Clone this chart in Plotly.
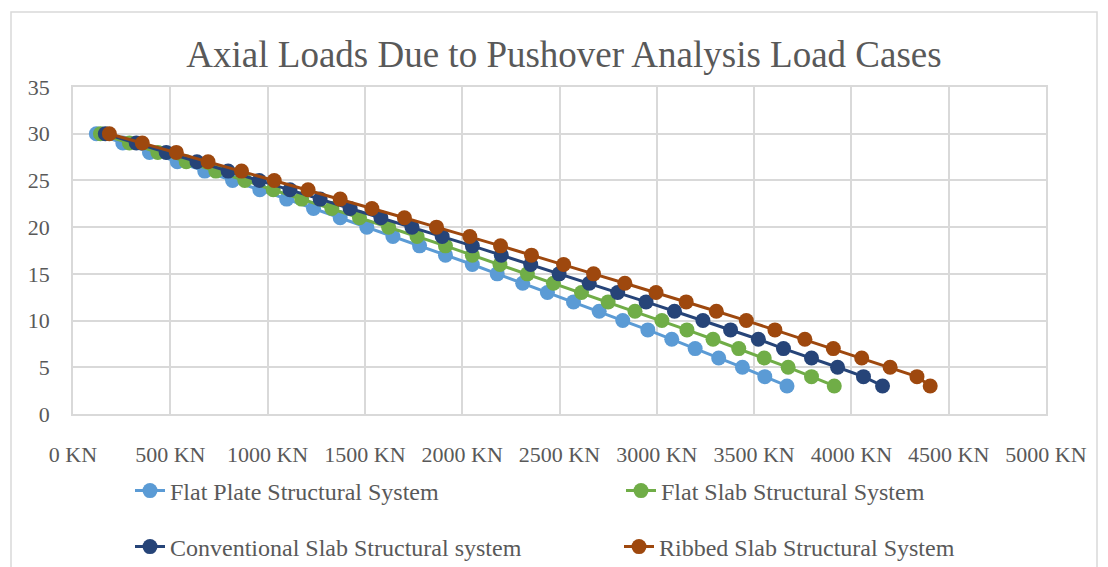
import plotly.graph_objects as go

# Storey levels (y axis)
storeys = list(range(30, 2, -1))

# Axial loads (KN)
flat_plate = [120, 256, 393, 536, 677, 820, 960, 1098, 1236, 1373, 1510, 1644, 1781, 1914,
              2052, 2180, 2311, 2438, 2572, 2704, 2825, 2954, 3077, 3197, 3318, 3440, 3555, 3669]
flat_slab = [141, 290, 436, 582, 734, 883, 1029, 1175, 1330, 1472, 1622, 1768, 1914, 2052,
             2194, 2335, 2469, 2613, 2750, 2888, 3026, 3155, 3289, 3421, 3552, 3675, 3795, 3912]
conventional = [166, 325, 479, 637, 797, 957, 1115, 1270, 1424, 1582, 1742, 1897, 2052, 2201,
                2352, 2498, 2653, 2799, 2945, 3091, 3237, 3379, 3522, 3651, 3795, 3929, 4062, 4160]
ribbed = [187, 356, 531, 694, 866, 1034, 1208, 1373, 1536, 1703, 1868, 2039, 2197, 2356,
          2521, 2675, 2836, 2996, 3151, 3306, 3460, 3607, 3761, 3907, 4053, 4199, 4337, 4405]

series_names = ["Flat Plate Structural System", "Flat Slab Structural System",
                "Conventional Slab Structural system", "Ribbed Slab Structural System"]
series_values = [flat_plate, flat_slab, conventional, ribbed]
colors = ["#5B9BD5", "#70AD47", "#264478", "#9E480E"]
legend_ids = ["legend", "legend2", "legend3", "legend4"]

FONT = "Liberation Serif"
GREY = "#595959"

fig = go.Figure()
for name, vals, col, lg in zip(series_names, series_values, colors, legend_ids):
    fig.add_trace(go.Scatter(
        x=vals, y=storeys, name=name, mode="lines+markers",
        line=dict(color=col, width=3),
        marker=dict(color=col, size=15, line=dict(width=0)),
        legend=lg,
    ))

W, H = 1108, 567
L, R, T, B = 73, 62, 87, 153
pw = W - L - R
ph = H - T - B

def px_x(px):
    return (px - L) / pw

def px_y(py):
    return (H - B - py) / ph

legend_common = dict(
    orientation="h", xanchor="left", yanchor="middle", yref="container",
    font=dict(family=FONT, size=24, color=GREY),
    bgcolor="rgba(0,0,0,0)", itemclick=False, itemdoubleclick=False,
)
# legend anchor pixel positions (text starts 40px to the right)
legend_pos = [(130, 491), (621, 491), (130, 547), (619, 547)]

layout_legends = {}
for lg, (lx, ly) in zip(legend_ids, legend_pos):
    layout_legends[lg] = dict(x=px_x(lx), y=1 - ly / H, **legend_common)

fig.update_layout(
    width=W, height=H,
    margin=dict(l=L, r=R, t=T, b=B),
    paper_bgcolor="white", plot_bgcolor="white",
    font=dict(family=FONT, color=GREY),
    title=dict(text="Axial Loads Due to Pushover Analysis Load Cases",
               font=dict(family=FONT, size=37, color=GREY),
               x=564 / W, xanchor="center", y=1 - 54 / H, yanchor="middle"),
    xaxis=dict(range=[0, 5000], dtick=500, tick0=0, ticksuffix=" KN",
               showgrid=True, gridcolor="#d9d9d9", gridwidth=1.5,
               showline=True, linecolor="#d9d9d9", linewidth=1.5, mirror=True,
               zeroline=False, ticks="", ticklabelstandoff=20, automargin=False,
               tickfont=dict(family=FONT, size=22, color=GREY)),
    yaxis=dict(range=[0, 35], dtick=5, tick0=0,
               showgrid=True, gridcolor="#d9d9d9", gridwidth=1.5,
               showline=True, linecolor="#d9d9d9", linewidth=1.5, mirror=True,
               zeroline=False, ticks="", ticklabelstandoff=17, automargin=False,
               tickfont=dict(family=FONT, size=22, color=GREY)),
    shapes=[dict(type="rect", xref="paper", yref="paper",
                 x0=px_x(11), x1=px_x(1097), y0=px_y(580), y1=px_y(12),
                 line=dict(color="#d9d9d9", width=1.5), layer="below")],
    showlegend=True,
    **layout_legends,
)

fig.write_html("out.html")
